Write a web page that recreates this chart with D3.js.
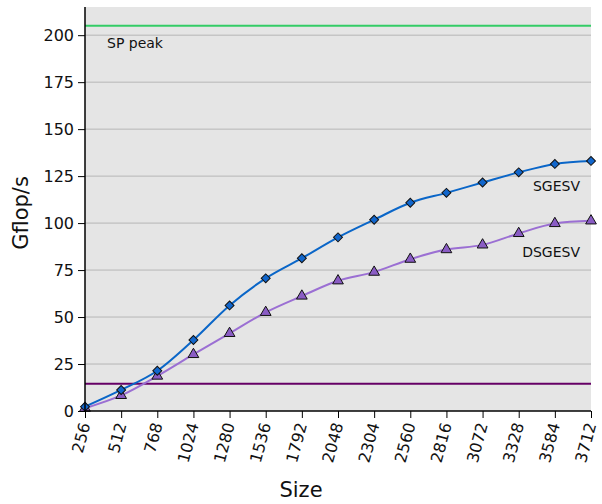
<!DOCTYPE html>
<html><head><meta charset="utf-8">
<script src="https://cdn.jsdelivr.net/npm/d3@7"></script>
<style>body{margin:0;background:#fff;}svg{display:block;font-family:"DejaVu Sans",sans-serif;}</style>
</head><body>
<svg id="c" width="602" height="504"></svg>
<script>
const sizes = ["256","512","768","1024","1280","1536","1792","2048","2304","2560","2816","3072","3328","3584","3712"];
const sgesv = [2.3, 11.2, 21.4, 37.8, 56.2, 70.6, 81.3, 92.4, 101.8, 110.8, 116.1, 121.6, 127.0, 131.5, 133.1];
const dsgesv = [1.5, 8.3, 18.6, 30.1, 41.3, 52.5, 61.2, 69.3, 73.9, 80.8, 85.9, 88.4, 94.5, 99.8, 101.2];
const yTicks = [0, 25, 50, 75, 100, 125, 150, 175, 200];
const spPeak = 205;
const lowLine = 14.5;

const svg = d3.select("#c");
const L = 85, R = 591, T = 7, B = 411;
const x = d3.scalePoint().domain(sizes).range([L, R]);
const y = d3.scaleLinear().domain([0, 215]).range([B, T]);

svg.append("rect").attr("x", L).attr("y", T).attr("width", R - L).attr("height", B - T).attr("fill", "#e5e5e5");

svg.append("g").selectAll("line").data(yTicks.filter(d => d > 0)).join("line")
  .attr("x1", L).attr("x2", R).attr("y1", d => y(d)).attr("y2", d => y(d))
  .attr("stroke", "#b6b6b6").attr("stroke-width", 1);

svg.append("line").attr("x1", L).attr("x2", R).attr("y1", y(spPeak)).attr("y2", y(spPeak))
  .attr("stroke", "#33cc66").attr("stroke-width", 2);
svg.append("line").attr("x1", L).attr("x2", R).attr("y1", y(lowLine)).attr("y2", y(lowLine))
  .attr("stroke", "#660066").attr("stroke-width", 2);

const line = d3.line().x((d, i) => x(sizes[i])).y(d => y(d)).curve(d3.curveMonotoneX);
svg.append("path").datum(dsgesv).attr("d", line).attr("fill", "none").attr("stroke", "#9b6fd3").attr("stroke-width", 2);
svg.append("path").datum(sgesv).attr("d", line).attr("fill", "none").attr("stroke", "#0a66c8").attr("stroke-width", 2);

const tri = d3.symbol().type(d3.symbolTriangle).size(50);
svg.append("g").selectAll("path").data(dsgesv).join("path")
  .attr("d", tri).attr("transform", (d, i) => `translate(${x(sizes[i])},${y(d)})`)
  .attr("fill", "#8a5cc4").attr("stroke", "#111").attr("stroke-width", 1);
const dia = d3.symbol().type(d3.symbolSquare).size(40);
svg.append("g").selectAll("path").data(sgesv).join("path")
  .attr("d", dia).attr("transform", (d, i) => `translate(${x(sizes[i])},${y(d)}) rotate(45)`)
  .attr("fill", "#1166cc").attr("stroke", "#111").attr("stroke-width", 1);

// axes
const ya = svg.append("g").attr("transform", `translate(${L},0)`)
  .call(d3.axisLeft(y).tickValues(yTicks).tickSize(7).tickPadding(4));
ya.select(".domain").attr("d", `M0,${T}V${B}`).attr("stroke", "#000").attr("stroke-width", 1.5);
ya.selectAll("text").attr("font-size", 16).attr("fill", "#111").attr("font-family", "DejaVu Sans");

const xa = svg.append("g").attr("transform", `translate(0,${B})`)
  .call(d3.axisBottom(x).tickSize(7).tickPadding(6));
xa.select(".domain").attr("d", `M${L},0H${R}`).attr("stroke", "#000").attr("stroke-width", 1.5);
xa.selectAll("text").attr("font-size", 16).attr("fill", "#111").attr("font-family", "DejaVu Sans")
  .attr("text-anchor", "end").attr("dy", "0.35em")
  .attr("transform", "translate(0,10) rotate(-75)").attr("x", -2).attr("y", 0);

svg.append("text").attr("x", 107).attr("y", 48).attr("font-size", 14).attr("fill", "#111").text("SP peak");
svg.append("text").attr("x", 580).attr("y", 191).attr("text-anchor", "end").attr("font-size", 14).attr("fill", "#111").text("SGESV");
svg.append("text").attr("x", 580).attr("y", 257).attr("text-anchor", "end").attr("font-size", 14).attr("fill", "#111").text("DSGESV");

svg.append("text").attr("transform", "translate(28,213) rotate(-90)").attr("text-anchor", "middle")
  .attr("font-size", 21).attr("fill", "#111").text("Gflop/s");
svg.append("text").attr("x", 301).attr("y", 497).attr("text-anchor", "middle")
  .attr("font-size", 21).attr("fill", "#111").text("Size");
</script>
</body></html>
